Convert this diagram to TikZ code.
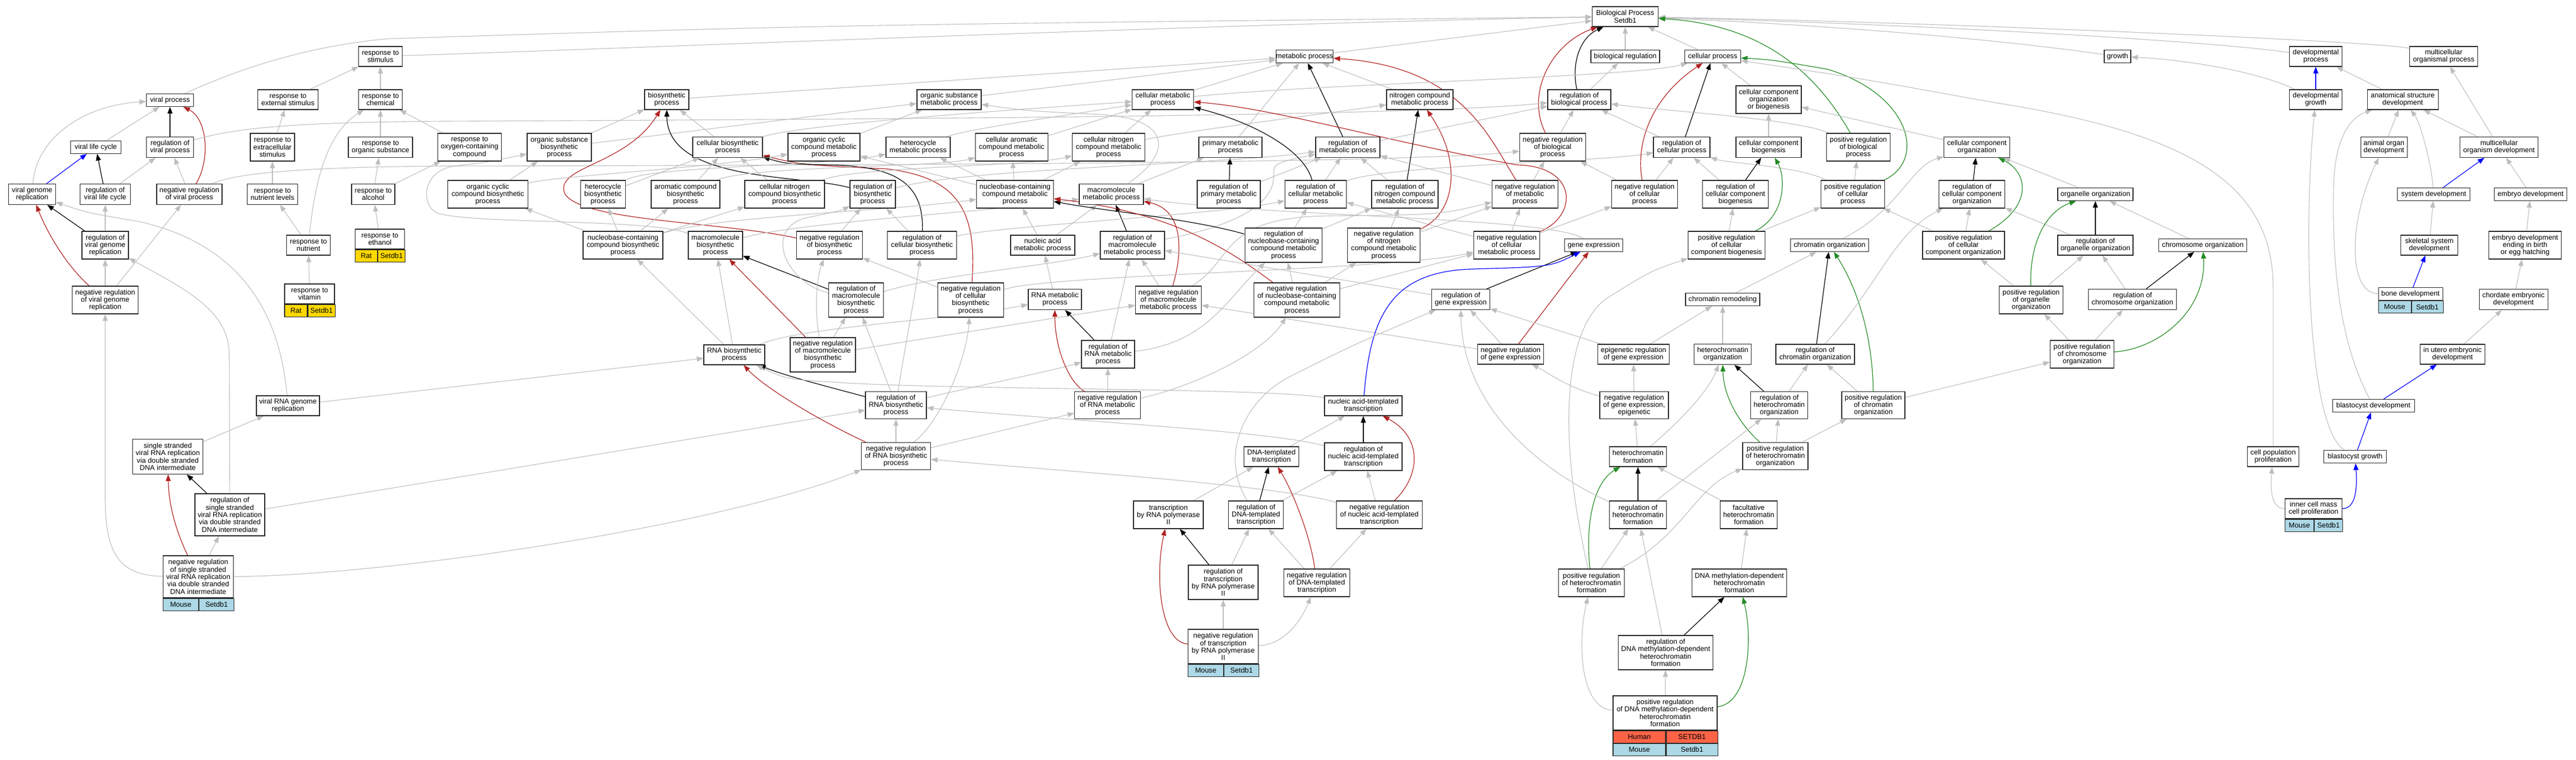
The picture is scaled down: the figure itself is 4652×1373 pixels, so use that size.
\documentclass[tikz,border=0pt]{standalone}
\usepackage{fontspec}
\setmainfont{Liberation Sans}
\usetikzlibrary{arrows.meta}
\newcommand{\gofont}{\fontsize{12.8}{13.3}\selectfont}
\definecolor{edgegray}{RGB}{190,190,190}
\definecolor{negred}{RGB}{178,34,34}
\definecolor{posgreen}{RGB}{34,139,34}
\definecolor{partblue}{RGB}{0,0,255}
\definecolor{ratyellow}{RGB}{255,215,0}
\definecolor{mouseblue}{RGB}{173,216,230}
\definecolor{humanred}{RGB}{255,99,71}
\tikzset{
  term/.style={draw=black!85, line width=1.1pt, fill=white, inner sep=0pt, align=center, font=\gofont},
  sz/.style 2 args={minimum width=#1pt, minimum height=#2pt},
  spcell/.style={draw=black!85, line width=1.1pt, inner sep=0pt, minimum height=22pt, anchor=north west, font=\gofont},
  gotip/.style={-{Triangle[length=12pt,width=9pt]}},
  isa/.style={gotip, draw=edgegray, line width=1.1pt},
  reg/.style={gotip, draw=black, line width=1.2pt},
  negreg/.style={gotip, draw=negred, line width=1.2pt},
  posreg/.style={gotip, draw=posgreen, line width=1.2pt},
  partof/.style={gotip, draw=partblue, line width=1.2pt},
}
\pgfdeclarelayer{bg}
\pgfdeclarelayer{edges}
\pgfsetlayers{bg,edges,main}
\begin{document}
\begin{tikzpicture}[x=1pt,y=-1pt]
\useasboundingbox (0,0) rectangle (4652,1373);
\begin{pgfonlayer}{bg}
\fill[white] (0,0) rectangle (4652,1373);
\end{pgfonlayer}
% top rows
\node[term,sz={119}{36}] (root) at (2935,30) {Biological Process\\Setdb1};
\node[term,sz={79}{36}] (rstim) at (687,102) {response to\\stimulus};
\node[term,sz={103}{23}] (mp) at (2356,102) {metabolic process};
\node[term,sz={124}{23}] (breg) at (2935,102) {biological regulation};
\node[term,sz={101}{23}] (cp) at (3093,102) {cellular process};
\node[term,sz={48}{23}] (growth) at (3824,102) {growth};
\node[term,sz={95}{36}] (devp) at (4182,102) {developmental\\process};
\node[term,sz={123}{36}] (mop) at (4413,102) {multicellular\\organismal process};
\node[term,sz={85}{23}] (vp) at (307,181) {viral process};
\node[term,sz={109}{36}] (rext) at (520,180) {response to\\external stimulus};
\node[term,sz={79}{36}] (rchem) at (687,180) {response to\\chemical};
\node[term,sz={80}{36}] (bios) at (1204,180) {biosynthetic\\process};
\node[term,sz={116}{36}] (osmp) at (1714,180) {organic substance\\metabolic process};
\node[term,sz={111}{36}] (cmp) at (2100,180) {cellular metabolic\\process};
\node[term,sz={120}{36}] (ncmp) at (2564,180) {nitrogen compound\\metabolic process};
\node[term,sz={114}{36}] (rbiop) at (2852,180) {regulation of\\biological process};
\node[term,sz={118}{50}] (ccob) at (3194,180) {cellular component\\organization\\or biogenesis};
\node[term,sz={95}{36}] (devg) at (4182,180) {developmental\\growth};
\node[term,sz={128}{36}] (asd) at (4339,180) {anatomical structure\\development};
% row 266
\node[term,sz={91}{23}] (vlc) at (173,266) {viral life cycle};
\node[term,sz={85}{37}] (rvp) at (307,266) {regulation of\\viral process};
\node[term,sz={80}{50}] (rextra) at (492,266) {response to\\extracellular\\stimulus};
\node[term,sz={116}{37}] (rorg) at (687,266) {response to\\organic substance};
\node[term,sz={115}{50}] (roxy) at (848,266) {response to\\oxygen-containing\\compound};
\node[term,sz={116}{50}] (osbp) at (1010,266) {organic substance\\biosynthetic\\process};
\node[term,sz={126}{37}] (cbp) at (1314,266) {cellular biosynthetic\\process};
\node[term,sz={130}{50}] (occmp) at (1488,266) {organic cyclic\\compound metabolic\\process};
\node[term,sz={116}{37}] (hmp) at (1658,266) {heterocycle\\metabolic process};
\node[term,sz={131}{50}] (cacmp) at (1827,266) {cellular aromatic\\compound metabolic\\process};
\node[term,sz={131}{50}] (cncmp) at (2002,266) {cellular nitrogen\\compound metabolic\\process};
\node[term,sz={114}{37}] (pmp) at (2222,266) {primary metabolic\\process};
\node[term,sz={116}{37}] (rmp) at (2434,266) {regulation of\\metabolic process};
\node[term,sz={119}{50}] (nrbiop) at (2804,266) {negative regulation\\of biological\\process};
\node[term,sz={102}{37}] (rcp) at (3037,266) {regulation of\\cellular process};
\node[term,sz={118}{37}] (ccb) at (3194,266) {cellular component\\biogenesis};
\node[term,sz={115}{50}] (prbiop) at (3356,266) {positive regulation\\of biological\\process};
\node[term,sz={119}{37}] (cco) at (3570,266) {cellular component\\organization};
\node[term,sz={84}{37}] (aod) at (4305,266) {animal organ\\development};
\node[term,sz={141}{37}] (mod) at (4513,266) {multicellular\\organism development};
% row 351
\node[term,sz={85}{37}] (vgr) at (58,351) {viral genome\\replication};
\node[term,sz={91}{37}] (rvlc) at (190,351) {regulation of\\viral life cycle};
\node[term,sz={118}{37}] (nrvp) at (342,351) {negative regulation\\of viral process};
\node[term,sz={91}{37}] (rnutl) at (492,351) {response to\\nutrient levels};
\node[term,sz={78}{37}] (ralc) at (674,351) {response to\\alcohol};
\node[term,sz={145}{50}] (occbp) at (881,351) {organic cyclic\\compound biosynthetic\\process};
\node[term,sz={81}{50}] (hbp) at (1089,351) {heterocycle\\biosynthetic\\process};
\node[term,sz={124}{50}] (acbp) at (1238,351) {aromatic compound\\biosynthetic\\process};
\node[term,sz={144}{50}] (cncbp) at (1417,351) {cellular nitrogen\\compound biosynthetic\\process};
\node[term,sz={82}{50}] (rbp) at (1576,351) {regulation of\\biosynthetic\\process};
\node[term,sz={139}{50}] (nccmp) at (1833,351) {nucleobase-containing\\compound metabolic\\process};
\node[term,sz={116}{37}] (mmp) at (2007,351) {macromolecule\\metabolic process};
\node[term,sz={114}{50}] (rpmp) at (2219,351) {regulation of\\primary metabolic\\process};
\node[term,sz={111}{50}] (rcmp) at (2376,351) {regulation of\\cellular metabolic\\process};
\node[term,sz={120}{50}] (rncmp) at (2537,351) {regulation of\\nitrogen compound\\metabolic process};
\node[term,sz={119}{50}] (nrmp) at (2754,351) {negative regulation\\of metabolic\\process};
\node[term,sz={119}{50}] (nrcp) at (2970,351) {negative regulation\\of cellular\\process};
\node[term,sz={119}{50}] (rccb) at (3134,351) {regulation of\\cellular component\\biogenesis};
\node[term,sz={115}{50}] (prcp) at (3346,351) {positive regulation\\of cellular\\process};
\node[term,sz={119}{50}] (rcco) at (3561,351) {regulation of\\cellular component\\organization};
\node[term,sz={136}{23}] (oo) at (3784,351) {organelle organization};
\node[term,sz={131}{23}] (sysd) at (4395,351) {system development};
\node[term,sz={131}{23}] (embd) at (4570,351) {embryo development};
% row 443
\node[term,sz={84}{50}] (rvgr) at (190,443) {regulation of\\viral genome\\replication};
\node[term,sz={79}{36}] (rnut) at (557,443) {response to\\nutrient};
\node[term,sz={89}{36}] (reth) at (686,432) {response to\\ethanol};
\node[term,sz={144}{50}] (nccbp) at (1125,443) {nucleobase-containing\\compound biosynthetic\\process};
\node[term,sz={98}{50}] (mbp) at (1292,443) {macromolecule\\biosynthetic\\process};
\node[term,sz={119}{50}] (nrbp) at (1498,443) {negative regulation\\of biosynthetic\\process};
\node[term,sz={125}{50}] (rcbp) at (1665,443) {regulation of\\cellular biosynthetic\\process};
\node[term,sz={116}{36}] (namp) at (1883,443) {nucleic acid\\metabolic process};
\node[term,sz={116}{50}] (rmmp) at (2045,443) {regulation of\\macromolecule\\metabolic process};
\node[term,sz={139}{62}] (rnccmp) at (2318,443) {regulation of\\nucleobase-containing\\compound metabolic\\process};
\node[term,sz={131}{62}] (nrncmp) at (2499,443) {negative regulation\\of nitrogen\\compound metabolic\\process};
\node[term,sz={119}{50}] (nrcmp) at (2721,443) {negative regulation\\of cellular\\metabolic process};
\node[term,sz={105}{23}] (ge) at (2878,443) {gene expression};
\node[term,sz={139}{50}] (prccb) at (3118,443) {positive regulation\\of cellular\\component biogenesis};
\node[term,sz={141}{23}] (co) at (3304,443) {chromatin organization};
\node[term,sz={148}{50}] (prcco) at (3546,443) {positive regulation\\of cellular\\component organization};
\node[term,sz={136}{36}] (roo) at (3784,443) {regulation of\\organelle organization};
\node[term,sz={159}{23}] (chro) at (3978,443) {chromosome organization};
\node[term,sz={103}{36}] (ssd) at (4387,443) {skeletal system\\development};
\node[term,sz={131}{50}] (edeb) at (4560,443) {embryo development\\ending in birth\\or egg hatching};
% row 541
\node[term,sz={119}{50}] (nrvgr) at (190,542) {negative regulation\\of viral genome\\replication};
\node[term,sz={90}{36}] (rvit) at (559,531) {response to\\vitamin};
\node[term,sz={99}{62}] (rmbp) at (1546,542) {regulation of\\macromolecule\\biosynthetic\\process};
\node[term,sz={119}{62}] (nrcbp) at (1753,542) {negative regulation\\of cellular\\biosynthetic\\process};
\node[term,sz={96}{37}] (rnamp) at (1905,541) {RNA metabolic\\process};
\node[term,sz={119}{50}] (nrmmp) at (2110,542) {negative regulation\\of macromolecule\\metabolic process};
\node[term,sz={155}{62}] (nrnccmp) at (2342,542) {negative regulation\\of nucleobase-containing\\compound metabolic\\process};
\node[term,sz={105}{37}] (rge) at (2638,541) {regulation of\\gene expression};
\node[term,sz={134}{23}] (crem) at (3111,541) {chromatin remodeling};
\node[term,sz={115}{50}] (proo) at (3668,542) {positive regulation\\of organelle\\organization};
\node[term,sz={159}{37}] (rchro) at (3851,541) {regulation of\\chromosome organization};
\node[term,sz={116}{23}] (bone) at (4353,531) {bone development};
\node[term,sz={124}{37}] (cedev) at (4539,541) {chordate embryonic\\development};
% row 640
\node[term,sz={110}{36}] (rnabp) at (1326,641) {RNA biosynthetic\\process};
\node[term,sz={118}{62}] (nrmbp) at (1486,641) {negative regulation\\of macromolecule\\biosynthetic\\process};
\node[term,sz={96}{50}] (rrnamp) at (2001,640) {regulation of\\RNA metabolic\\process};
\node[term,sz={119}{36}] (nrge) at (2728,640) {negative regulation\\of gene expression};
\node[term,sz={129}{36}] (ergex) at (2950,640) {epigenetic regulation\\of gene expression};
\node[term,sz={103}{37}] (ho) at (3111,640) {heterochromatin\\organization};
\node[term,sz={142}{36}] (rco) at (3278,640) {regulation of\\chromatin organization};
\node[term,sz={115}{50}] (prchro) at (3760,640) {positive regulation\\of chromosome\\organization};
\node[term,sz={117}{36}] (iued) at (4429,640) {in utero embryonic\\development};
% row 733
\node[term,sz={114}{36}] (vrgr) at (520,733) {viral RNA genome\\replication};
\node[term,sz={110}{49}] (rrnabp) at (1618,732) {regulation of\\RNA biosynthetic\\process};
\node[term,sz={119}{49}] (nrrnamp) at (2000,732) {negative regulation\\of RNA metabolic\\process};
\node[term,sz={140}{36}] (natt) at (2462,733) {nucleic acid-templated\\transcription};
\node[term,sz={124}{49}] (nrgee) at (2951,732) {negative regulation\\of gene expression,\\epigenetic};
\node[term,sz={103}{49}] (rho) at (3213,732) {regulation of\\heterochromatin\\organization};
\node[term,sz={114}{49}] (prco) at (3383,732) {positive regulation\\of chromatin\\organization};
\node[term,sz={148}{23}] (bld) at (4286,733) {blastocyst development};
% row 825
\node[term,sz={127}{63}] (ssvr) at (303,825) {single stranded\\viral RNA replication\\via double stranded\\DNA intermediate};
\node[term,sz={125}{49}] (nrrnabp) at (1618,824) {negative regulation\\of RNA biosynthetic\\process};
\node[term,sz={99}{36}] (dnatt) at (2296,825) {DNA-templated\\transcription};
\node[term,sz={140}{50}] (rnatt) at (2462,825) {regulation of\\nucleic acid-templated\\transcription};
\node[term,sz={103}{36}] (hf) at (2958,825) {heterochromatin\\formation};
\node[term,sz={118}{49}] (prho) at (3206,824) {positive regulation\\of heterochromatin\\organization};
\node[term,sz={93}{36}] (cpp) at (4105,825) {cell population\\proliferation};
\node[term,sz={113}{23}] (blg) at (4253,825) {blastocyst growth};
% row 930
\node[term,sz={126}{76}] (rssvr) at (415,930) {regulation of\\single stranded\\viral RNA replication\\via double stranded\\DNA intermediate};
\node[term,sz={126}{50}] (trnap) at (2110,930) {transcription\\by RNA polymerase\\II};
\node[term,sz={99}{50}] (rdnatt) at (2268,930) {regulation of\\DNA-templated\\transcription};
\node[term,sz={155}{50}] (nrnatt) at (2491,930) {negative regulation\\of nucleic acid-templated\\transcription};
\node[term,sz={103}{50}] (rhf) at (2958,930) {regulation of\\heterochromatin\\formation};
\node[term,sz={103}{50}] (fhf) at (3158,930) {facultative\\heterochromatin\\formation};
\node[term,sz={103}{36}] (icm) at (4178,919) {inner cell mass\\cell proliferation};
% lower rows
\node[term,sz={127}{76}] (nrssvr) at (358,1042) {negative regulation\\of single stranded\\viral RNA replication\\via double stranded\\DNA intermediate};
\node[term,sz={126}{62}] (rtrnap) at (2209,1052) {regulation of\\transcription\\by RNA polymerase\\II};
\node[term,sz={119}{50}] (nrdnatt) at (2378,1053) {negative regulation\\of DNA-templated\\transcription};
\node[term,sz={119}{50}] (prhf) at (2874,1053) {positive regulation\\of heterochromatin\\formation};
\node[term,sz={171}{50}] (dmhf) at (3141,1053) {DNA methylation-dependent\\heterochromatin\\formation};
\node[term,sz={127}{62}] (nrtrnap) at (2209,1168) {negative regulation\\of transcription\\by RNA polymerase\\II};
\node[term,sz={171}{62}] (rdmhf) at (3008,1179) {regulation of\\DNA methylation-dependent\\heterochromatin\\formation};
\node[term,sz={188}{62}] (prdmhf) at (3007,1288) {positive regulation\\of DNA methylation-dependent\\heterochromatin\\formation};
% species rows
\node[spcell,fill=ratyellow,minimum width=40pt] (rethA) at (reth.south west) {Rat};
\node[spcell,fill=ratyellow,minimum width=49pt] (rethB) at (rethA.north east) {Setdb1};
\node[spcell,fill=ratyellow,minimum width=41pt] (rvitA) at (rvit.south west) {Rat};
\node[spcell,fill=ratyellow,minimum width=49pt] (rvitB) at (rvitA.north east) {Setdb1};
\node[spcell,fill=mouseblue,minimum width=64pt] (nrssvrA) at (nrssvr.south west) {Mouse};
\node[spcell,fill=mouseblue,minimum width=63pt] (nrssvrB) at (nrssvrA.north east) {Setdb1};
\node[spcell,fill=mouseblue,minimum width=64pt] (nrtrnapA) at (nrtrnap.south west) {Mouse};
\node[spcell,fill=mouseblue,minimum width=63pt] (nrtrnapB) at (nrtrnapA.north east) {Setdb1};
\node[spcell,fill=mouseblue,minimum width=59pt] (boneA) at (bone.south west) {Mouse};
\node[spcell,fill=mouseblue,minimum width=57pt] (boneB) at (boneA.north east) {Setdb1};
\node[spcell,fill=mouseblue,minimum width=52pt] (icmA) at (icm.south west) {Mouse};
\node[spcell,fill=mouseblue,minimum width=51pt] (icmB) at (icmA.north east) {Setdb1};
\node[spcell,fill=humanred,minimum width=95pt] (prdmhfA) at (prdmhf.south west) {Human};
\node[spcell,fill=humanred,minimum width=93pt] (prdmhfB) at (prdmhfA.north east) {SETDB1};
\node[spcell,fill=mouseblue,minimum width=95pt] (prdmhfC) at (prdmhfA.south west) {Mouse};
\node[spcell,fill=mouseblue,minimum width=93pt] (prdmhfD) at (prdmhfC.north east) {Setdb1};
\begin{pgfonlayer}{edges}
% root
\draw[isa] (vp) .. controls (420,130) and (540,85) .. (700,70) .. controls (1500,45) .. (root);
\draw[isa] (rstim) .. controls (1200,85) and (2300,40) .. (root);
\draw[isa] (mp) -- (root);
\draw[isa] (breg) -- (root);
\draw[isa] (cp) -- (root);
\draw[isa] (growth) .. controls (3600,70) and (3300,45) .. (root);
\draw[isa] (devp) .. controls (4000,75) and (3500,45) .. (root);
\draw[isa] (mop) .. controls (4300,75) and (3500,40) .. (root);
\draw[reg] (rbiop) .. controls (2838,120) and (2850,70) .. (root);
\draw[negreg] (nrbiop) .. controls (2755,170) and (2800,80) .. (root);
\draw[posreg] (prbiop) .. controls (3290,150) and (3200,45) .. (root);
% viral
\draw[isa] (vlc) -- (vp);
\draw[reg] (rvp) -- (vp);
\draw[negreg] (nrvp) .. controls (380,290) and (375,215) .. (vp);
\draw[isa] (vgr) .. controls (65,250) and (150,190) .. (vp);
\draw[partof] (vgr) -- (vlc);
\draw[reg] (rvlc) -- (vlc);
\draw[isa] (rvlc) -- (rvp);
\draw[isa] (nrvp) -- (rvp);
\draw[isa] (rvp) .. controls (420,232) and (520,221) .. (800,219) .. controls (2000,214) and (2600,205) .. (rbiop);
\draw[isa] (nrvp) .. controls (420,315) and (520,302) .. (800,300) .. controls (2000,298) and (2600,290) .. (nrbiop);
\draw[reg] (rvgr) -- (vgr);
\draw[isa] (rvgr) -- (rvlc);
\draw[negreg] (nrvgr) .. controls (120,480) and (85,420) .. (vgr);
\draw[isa] (nrvgr) -- (rvgr);
\draw[isa] (nrvgr) -- (nrvp);
\draw[isa] (vrgr) .. controls (505,560) and (430,440) .. (250,400) .. controls (160,385) .. (vgr);
\draw[isa] (rssvr) -- (414,640) .. controls (414,560) and (330,520) .. (rvgr);
\draw[isa] (nrssvr) .. controls (215,1040) and (190,1000) .. (190,900) -- (nrvgr);
\draw[isa] (ssvr) -- (vrgr);
\draw[reg] (rssvr) -- (ssvr);
\draw[negreg] (nrssvr) .. controls (330,985) and (305,930) .. (ssvr);
\draw[isa] (nrssvr) -- (rssvr);
\draw[isa] (rssvr) -- (rrnabp);
\draw[isa] (nrssvr) .. controls (700,1040) and (1300,950) .. (nrrnabp);
\draw[isa] (vrgr) -- (rnabp);
% response
\draw[isa] (rext) -- (rstim);
\draw[isa] (rchem) -- (rstim);
\draw[isa] (rextra) -- (rext);
\draw[isa] (rorg) -- (rchem);
\draw[isa] (rnutl) -- (rextra);
\draw[isa] (ralc) -- (rorg);
\draw[isa] (rnut) -- (rnutl);
\draw[isa] (reth) -- (ralc);
\draw[isa] (rvit) -- (rnut);
\draw[isa] (rnut) .. controls (568,330) and (590,240) .. (rchem);
\draw[isa] (roxy) -- (rchem);
\draw[isa] (ralc) -- (roxy);
% biosynthetic
\draw[isa] (bios) -- (mp);
\draw[isa] (osbp) -- (bios);
\draw[isa] (cbp) -- (bios);
\draw[isa] (osbp) -- (osmp);
\draw[isa] (cbp) .. controls (1450,225) and (1800,200) .. (cmp);
\draw[negreg] (nrbp) .. controls (1300,400) and (1050,400) .. (1020,350) .. controls (1000,300) and (1130,300) .. (bios);
\draw[reg] (rbp) .. controls (1450,315) and (1205,330) .. (bios);
\draw[isa] (hbp) -- (cbp);
\draw[isa] (acbp) -- (cbp);
\draw[isa] (cncbp) -- (cbp);
\draw[negreg] (nrcbp) .. controls (1765,380) and (1730,320) .. (1600,305) .. controls (1450,298) .. (cbp);
\draw[reg] (rcbp) .. controls (1668,340) and (1630,300) .. (1500,298) .. controls (1420,296) .. (cbp);
\draw[isa] (occbp) -- (osbp);
\draw[isa] (occbp) .. controls (1000,318) and (1300,302) .. (occmp);
\draw[isa] (hbp) .. controls (1170,300) and (1500,300) .. (hmp);
\draw[isa] (acbp) .. controls (1350,300) and (1700,302) .. (cacmp);
\draw[isa] (cncbp) .. controls (1550,300) and (1850,302) .. (cncmp);
\draw[isa] (nccbp) -- (occbp);
\draw[isa] (nccbp) -- (hbp);
\draw[isa] (nccbp) -- (acbp);
\draw[isa] (nccbp) -- (cncbp);
\draw[isa] (nccbp) .. controls (1300,390) and (1600,382) .. (nccmp);
\draw[isa] (nrbp) -- (rbp);
\draw[isa] (nrcbp) -- (nrbp);
\draw[isa] (rcbp) -- (rbp);
\draw[isa] (mbp) .. controls (1180,395) and (850,405) .. (790,385) .. controls (760,372) and (760,310) .. (820,300) .. controls (880,293) .. (osbp);
\draw[isa] (mbp) .. controls (1450,400) and (1800,382) .. (mmp);
\draw[reg] (rmbp) -- (mbp);
\draw[isa] (rmbp) .. controls (1420,510) and (1380,420) .. (1450,395) .. controls (1520,380) .. (rbp);
\draw[isa] (rmbp) .. controls (1700,495) and (1900,480) .. (rmmp);
\draw[isa] (nrmbp) -- (rmbp);
\draw[negreg] (nrmbp) -- (mbp);
\draw[isa] (nrmbp) .. controls (1470,560) and (1475,500) .. (nrbp);
\draw[isa] (nrmbp) -- (nrmmp);
\draw[isa] (rnabp) -- (mbp);
\draw[isa] (rnabp) -- (nccbp);
\draw[isa] (rnabp) .. controls (1450,590) and (1700,580) .. (rnamp);
\draw[reg] (rrnabp) .. controls (1520,705) and (1420,680) .. (rnabp);
\draw[negreg] (nrrnabp) .. controls (1480,760) and (1380,700) .. (rnabp);
\draw[isa] (rrnabp) -- (rmbp);
\draw[isa] (rrnabp) .. controls (1630,650) and (1650,550) .. (rcbp);
\draw[isa] (rrnabp) .. controls (1750,700) and (1900,670) .. (rrnamp);
\draw[isa] (nrrnabp) -- (rrnabp);
\draw[isa] (nrrnabp) -- (nrrnamp);
\draw[isa] (nrrnabp) .. controls (1700,760) and (1745,650) .. (nrcbp);
\draw[isa] (rnatt) .. controls (2300,780) and (2000,765) .. (rrnabp);
\draw[isa] (nrnatt) .. controls (2300,875) and (1900,850) .. (nrrnabp);
% metabolic
\draw[isa] (osmp) -- (mp);
\draw[isa] (cmp) -- (mp);
\draw[isa] (pmp) -- (mp);
\draw[isa] (ncmp) -- (mp);
\draw[reg] (rmp) -- (mp);
\draw[negreg] (nrmp) .. controls (2690,250) and (2640,120) .. (mp);
\draw[isa] (cmp) .. controls (2400,150) and (2950,140) .. (cp);
\draw[isa] (mmp) .. controls (2115,280) and (2120,215) .. (1990,207) .. controls (1850,200) .. (osmp);
\draw[isa] (occmp) -- (osmp);
\draw[isa] (hmp) .. controls (1750,232) and (1950,205) .. (cmp);
\draw[isa] (cacmp) -- (cmp);
\draw[isa] (cncmp) -- (cmp);
\draw[isa] (cncmp) .. controls (2150,235) and (2400,205) .. (ncmp);
\draw[isa] (nccmp) -- (hmp);
\draw[isa] (nccmp) -- (cacmp);
\draw[isa] (nccmp) -- (cncmp);
\draw[isa] (nccmp) -- (occmp);
\draw[isa] (mmp) -- (pmp);
\draw[isa] (namp) -- (nccmp);
\draw[isa] (namp) -- (mmp);
\draw[isa] (rnamp) -- (namp);
\draw[reg] (rrnamp) -- (rnamp);
\draw[negreg] (nrrnamp) .. controls (1930,690) and (1905,630) .. (rnamp);
\draw[isa] (nrrnamp) -- (rrnamp);
\draw[isa] (rrnamp) -- (rmmp);
\draw[isa] (rrnamp) .. controls (2180,620) and (2215,540) .. (rnccmp);
\draw[isa] (nrrnamp) .. controls (2150,700) and (2280,640) .. (nrnccmp);
\draw[isa] (nrmmp) -- (rmmp);
\draw[negreg] (nrmmp) .. controls (2135,460) and (2140,380) .. (mmp);
\draw[reg] (rmmp) -- (mmp);
\draw[isa] (rmmp) .. controls (2250,405) and (2300,360) .. (2300,320) .. controls (2300,295) .. (rmp);
\draw[reg] (rpmp) -- (pmp);
\draw[isa] (rpmp) -- (rmp);
\draw[isa] (rbp) .. controls (1750,303) and (2200,298) .. (rmp);
\draw[isa] (rcbp) .. controls (1800,408) and (2200,388) .. (rcmp);
\draw[isa] (rcmp) -- (rmp);
\draw[isa] (rcmp) .. controls (2500,298) and (2900,292) .. (rcp);
\draw[reg] (rcmp) .. controls (2355,270) and (2260,220) .. (cmp);
\draw[negreg] (nrcmp) .. controls (2850,390) and (2850,300) .. (2740,298) .. controls (2500,255) and (2300,195) .. (cmp);
\draw[isa] (nrcmp) -- (rcmp);
\draw[isa] (nrcmp) -- (nrmp);
\draw[isa] (nrcmp) -- (nrcp);
\draw[reg] (rncmp) -- (ncmp);
\draw[isa] (rncmp) -- (rmp);
\draw[negreg] (nrncmp) .. controls (2630,385) and (2640,290) .. (ncmp);
\draw[isa] (nrncmp) -- (rncmp);
\draw[isa] (nrncmp) -- (nrmp);
\draw[isa] (nrmp) -- (rmp);
\draw[isa] (nrmp) -- (nrbiop);
\draw[reg] (rnccmp) .. controls (2150,395) and (2000,382) .. (nccmp);
\draw[negreg] (nrnccmp) .. controls (2230,460) and (2130,385) .. (nccmp);
\draw[isa] (rnccmp) -- (rcmp);
\draw[isa] (rnccmp) -- (rncmp);
\draw[isa] (nrnccmp) -- (rnccmp);
\draw[isa] (nrnccmp) -- (nrncmp);
\draw[isa] (nrnccmp) -- (nrcmp);
\draw[isa] (nrcbp) .. controls (1900,495) and (2500,490) .. (nrcmp);
\draw[isa] (nrmmp) .. controls (2230,470) and (2200,392) .. (2400,390) .. controls (2600,388) .. (nrmp);
% gene expression
\draw[isa] (rge) -- (rmmp);
\draw[isa] (nrge) -- (nrmmp);
\draw[isa] (nrge) -- (rge);
\draw[negreg] (nrge) -- (ge);
\draw[reg] (rge) -- (ge);
\draw[partof] (natt) .. controls (2475,560) and (2520,490) .. (2660,486) .. controls (2800,482) .. (ge);
\draw[isa] (ge) .. controls (2800,392) and (2300,392) .. (mmp);
\draw[isa] (ergex) -- (rge);
\draw[isa] (nrgee) -- (ergex);
\draw[isa] (nrgee) .. controls (2830,700) and (2790,670) .. (nrge);
\draw[isa] (hf) -- (nrgee);
\draw[isa] (ergex) -- (crem);
% cellular process
\draw[isa] (ccob) -- (cp);
\draw[reg] (rcp) -- (cp);
\draw[negreg] (nrcp) .. controls (2952,250) and (2990,170) .. (cp);
\draw[posreg] (prcp) .. controls (3480,290) and (3450,170) .. (3300,125) .. controls (3200,108) .. (cp);
\draw[isa] (cpp) -- (4105,520) .. controls (4105,330) and (3950,240) .. (3600,185) .. controls (3350,140) .. (cp);
\draw[isa] (cco) -- (ccob);
\draw[isa] (ccb) -- (ccob);
\draw[isa] (rbiop) -- (breg);
\draw[isa] (rcp) -- (rbiop);
\draw[isa] (nrbiop) -- (rbiop);
\draw[isa] (rmp) -- (rbiop);
\draw[isa] (prbiop) .. controls (3250,215) and (3000,200) .. (rbiop);
\draw[isa] (nrcp) -- (nrbiop);
\draw[isa] (nrcp) -- (rcp);
\draw[isa] (prcp) -- (prbiop);
\draw[isa] (prcp) .. controls (3250,300) and (3120,295) .. (rcp);
\draw[reg] (rccb) -- (ccb);
\draw[isa] (rccb) -- (rcp);
\draw[posreg] (prccb) .. controls (3225,390) and (3225,320) .. (ccb);
\draw[isa] (prccb) -- (rccb);
\draw[isa] (prccb) -- (prcp);
\draw[reg] (rcco) -- (cco);
\draw[posreg] (prcco) .. controls (3675,370) and (3660,310) .. (cco);
\draw[isa] (prcco) -- (rcco);
\draw[isa] (prcco) -- (prcp);
\draw[isa] (oo) -- (cco);
\draw[reg] (roo) -- (oo);
\draw[isa] (roo) -- (rcco);
\draw[posreg] (proo) .. controls (3665,430) and (3700,380) .. (oo);
\draw[isa] (proo) -- (roo);
\draw[isa] (proo) -- (prcco);
\draw[isa] (rchro) -- (roo);
\draw[isa] (chro) -- (oo);
\draw[reg] (rchro) -- (chro);
\draw[posreg] (prchro) .. controls (3900,630) and (3985,560) .. (chro);
\draw[isa] (prchro) -- (proo);
\draw[isa] (prchro) -- (rchro);
\draw[isa] (co) .. controls (3430,380) and (3450,300) .. (cco);
\draw[reg] (rco) -- (co);
\draw[posreg] (prco) .. controls (3382,620) and (3360,530) .. (co);
\draw[isa] (rco) .. controls (3390,520) and (3420,420) .. (rcco);
\draw[isa] (crem) -- (co);
\draw[isa] (ho) -- (crem);
\draw[reg] (rho) -- (ho);
\draw[isa] (rho) -- (rco);
\draw[isa] (prco) -- (rco);
\draw[posreg] (prho) .. controls (3135,760) and (3112,710) .. (ho);
\draw[isa] (prho) -- (rho);
\draw[isa] (prho) -- (prco);
\draw[isa] (prco) -- (prchro);
% heterochromatin
\draw[isa] (hf) .. controls (3000,790) and (3080,720) .. (ho);
\draw[isa] (rhf) -- (rho);
\draw[isa] (fhf) -- (hf);
\draw[isa] (prhf) .. controls (3040,970) and (3060,880) .. (prho);
\draw[reg] (rhf) -- (hf);
\draw[posreg] (prhf) .. controls (2862,940) and (2880,870) .. (hf);
\draw[isa] (prhf) -- (rhf);
\draw[isa] (rdmhf) -- (rhf);
\draw[isa] (dmhf) -- (fhf);
\draw[reg] (rdmhf) -- (dmhf);
\draw[posreg] (prdmhf) .. controls (3160,1270) and (3165,1150) .. (dmhf);
\draw[isa] (prdmhf) -- (rdmhf);
\draw[isa] (prdmhf) .. controls (2850,1280) and (2850,1150) .. (prhf);
\draw[isa] (rhf) .. controls (2760,840) and (2640,720) .. (rge);
\draw[isa] (prhf) .. controls (2815,800) and (2820,600) .. (2900,540) .. controls (2980,490) .. (prccb);
% transcription
\draw[isa] (natt) .. controls (2300,700) and (1700,705) .. (1500,690) .. controls (1420,685) .. (rnabp);
\draw[reg] (rnatt) -- (natt);
\draw[negreg] (nrnatt) .. controls (2565,860) and (2570,790) .. (natt);
\draw[isa] (nrnatt) -- (rnatt);
\draw[isa] (dnatt) -- (natt);
\draw[reg] (rdnatt) -- (dnatt);
\draw[isa] (rdnatt) -- (rnatt);
\draw[negreg] (nrdnatt) .. controls (2365,960) and (2330,880) .. (dnatt);
\draw[isa] (nrdnatt) -- (rdnatt);
\draw[isa] (nrdnatt) -- (nrnatt);
\draw[isa] (trnap) -- (dnatt);
\draw[reg] (rtrnap) -- (trnap);
\draw[isa] (rtrnap) -- (rdnatt);
\draw[negreg] (nrtrnap) .. controls (2095,1160) and (2085,1040) .. (trnap);
\draw[isa] (nrtrnap) -- (rtrnap);
\draw[isa] (nrtrnap) .. controls (2320,1165) and (2350,1120) .. (nrdnatt);
\draw[isa] (rdnatt) .. controls (2200,820) and (2250,720) .. (2330,680) .. controls (2450,620) .. (rge);
% development
\draw[partof] (devg) -- (devp);
\draw[isa] (devg) .. controls (4080,130) and (3950,108) .. (growth);
\draw[isa] (asd) -- (devp);
\draw[isa] (aod) -- (asd);
\draw[isa] (mod) -- (asd);
\draw[isa] (mod) -- (mop);
\draw[isa] (sysd) .. controls (4390,290) and (4370,220) .. (asd);
\draw[partof] (sysd) -- (mod);
\draw[isa] (embd) -- (mod);
\draw[isa] (ssd) -- (sysd);
\draw[isa] (edeb) -- (embd);
\draw[partof] (bone) -- (ssd);
\draw[isa] (bone) .. controls (4240,530) and (4240,400) .. (aod);
\draw[isa] (cedev) -- (edeb);
\draw[isa] (iued) -- (cedev);
\draw[partof] (bld) -- (iued);
\draw[partof] (blg) -- (bld);
\draw[partof] (icm) .. controls (4255,919) and (4257,880) .. (blg);
\draw[isa] (icm) .. controls (4100,919) and (4100,880) .. (cpp);
\draw[isa] (blg) .. controls (4165,770) and (4160,400) .. (devg);
\draw[isa] (bld) .. controls (4225,620) and (4212,480) .. (4214,350) .. controls (4214,240) and (4250,210) .. (asd);
\end{pgfonlayer}
\end{tikzpicture}
\end{document}
